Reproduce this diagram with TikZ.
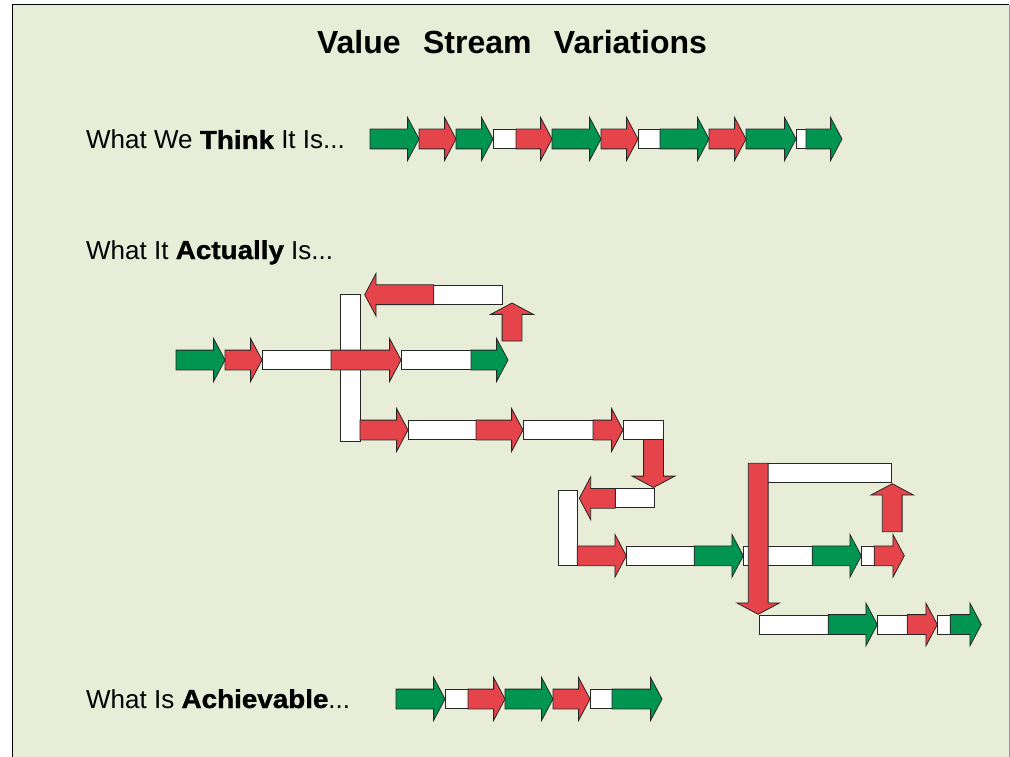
\documentclass[tikz,border=0pt]{standalone}
\usepackage{fontspec}
\setmainfont{Liberation Sans}
\newfontfamily\heavy{Liberation Sans}[FakeStretch=1.07,FakeBold=1.2]
\usetikzlibrary{shapes.arrows,positioning}
\definecolor{vagreen}{RGB}{0,150,82}
\definecolor{nvared}{RGB}{228,68,74}
\definecolor{sheet}{RGB}{232,237,216}

\begin{document}
\begin{tikzpicture}[x=1pt,y=-1pt,
    flow/.style={single arrow, draw=black!85, line width=0.8pt, inner sep=9.5pt,
      single arrow head extend=11.5pt, single arrow tip angle=124, minimum width=0pt,
      outer sep=0pt, anchor=tail},
    va/.style={flow, fill=vagreen, minimum height=#1},
    nva/.style={flow, fill=nvared, minimum height=#1},
    idle/.style={rectangle, draw=black!85, line width=0.8pt, fill=white, inner sep=0pt,
      minimum height=19pt, minimum width=#1, outer sep=0pt, anchor=west},
    lbl/.style={font=\fontsize{26}{30}\selectfont, anchor=base west, inner sep=0pt}]
  \useasboundingbox (0,0) rectangle (1010,757);
  \fill[sheet] (12,5) rectangle (1009,770);
  \draw[line width=1pt] (12,770) -- (12,5) -- (1009,5);
  \draw[black!40] (1009,5) -- (1009,770);

  \node[font=\bfseries\fontsize{32}{38}\selectfont] (title) at (512,42)
    {Value\hspace{0.7em}Stream\hspace{0.7em}Variations};

  % what we think
  \node[lbl] (think) at (86,149) {What We {\heavy\bfseries Think} It Is...};
  \node[va=49] (t1) at (370,139) {};
  \node[nva=37] (t2) at (t1.tip) {};
  \node[va=37] (t3) at (t2.tip) {};
  \node[idle=23] (t4) at (t3.tip) {};
  \node[nva=36] (t5) at (t4.east) {};
  \node[va=49] (t6) at (t5.tip) {};
  \node[nva=37] (t7) at (t6.tip) {};
  \node[idle=22] (t8) at (t7.tip) {};
  \node[va=49] (t9) at (t8.east) {};
  \node[nva=37] (t10) at (t9.tip) {};
  \node[va=50] (t11) at (t10.tip) {};
  \node[idle=10] (t12) at (t11.tip) {};
  \node[va=36] (t13) at (t12.east) {};

  % what it actually is
  \node[lbl] (actual) at (86,259) {What It {\heavy\bfseries Actually} Is...};
  \node[va=49] (a1) at (176,360) {};
  \node[nva=37] (a2) at (a1.tip) {};
  \node[idle=69] (a3) at (a2.tip) {};
  \node[idle=20, minimum height=147, anchor=north west] (v1) at (340,294) {};
  \node[nva=70] (a4) at (a3.east) {};
  \node[idle=70] (a5) at (a4.tip) {};
  \node[va=37] (a6) at (a5.east) {};
  \node[nva=38, shape border rotate=90] (u1) at (512,341) {};
  \node[idle=69, anchor=east] (r1) at (502.7,294.7) {};
  \node[nva=69, shape border rotate=180] (r2) at (r1.west) {};

  \node[nva=48] (b1) at (360,430) {};
  \node[idle=68] (b2) at (b1.tip) {};
  \node[nva=47] (b3) at (b2.east) {};
  \node[idle=70] (b4) at (b3.tip) {};
  \node[nva=30] (b5) at (b4.east) {};
  \node[idle=40] (b6) at (b5.tip) {};
  \node[nva=48, shape border rotate=270] (d1) at ([xshift=-9.5pt]b6.south east) {};

  \node[idle=39, anchor=east] (c1) at (654.3,498.3) {};
  \node[nva=36, shape border rotate=180] (c2) at (c1.west) {};
  \node[idle=19, minimum height=74.3, anchor=north west] (v2) at (558.3,490.7) {};

  \node[nva=49] (e1) at (577.3,555.8) {};
  \node[idle=68] (e2) at (e1.tip) {};
  \node[va=49] (e3) at (e2.east) {};
  \node[idle=69] (e4) at (e3.tip) {};
  \node[va=49] (e5) at (e4.east) {};
  \node[idle=13] (e6) at (e5.tip) {};
  \node[nva=30] (e7) at (e6.east) {};
  \node[nva=48, shape border rotate=90] (u2) at (892.2,531.7) {};
  \node[idle=124.4, anchor=north west] (k1) at (767.3,463.3) {};
  \node[nva=151, shape border rotate=270] (d2) at (758.2,463.3) {};

  \node[idle=69] (f1) at (759.3,624.5) {};
  \node[va=49] (f2) at (f1.east) {};
  \node[idle=30] (f3) at (f2.tip) {};
  \node[nva=30] (f4) at (f3.east) {};
  \node[idle=13] (f5) at (f4.tip) {};
  \node[va=31] (f6) at (f5.east) {};

  % what is achievable
  \node[lbl] (achieve) at (86,708) {What Is {\heavy\bfseries Achievable}...};
  \node[va=49] (g1) at (396,699) {};
  \node[idle=23] (g2) at (g1.tip) {};
  \node[nva=37] (g3) at (g2.east) {};
  \node[va=48] (g4) at (g3.tip) {};
  \node[nva=37] (g5) at (g4.tip) {};
  \node[idle=22] (g6) at (g5.tip) {};
  \node[va=50] (g7) at (g6.east) {};
\end{tikzpicture}
\end{document}
